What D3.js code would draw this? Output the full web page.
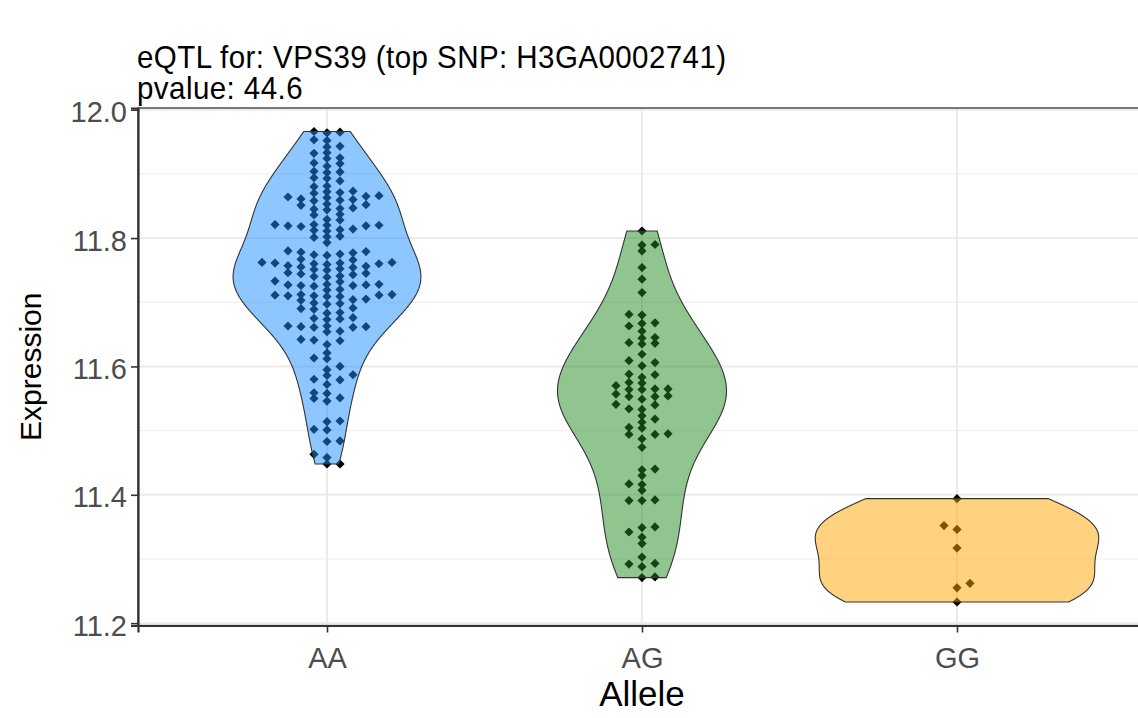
<!DOCTYPE html>
<html>
<head>
<meta charset="utf-8">
<script src="https://cdn.jsdelivr.net/npm/d3@7"></script>
<style>
  html, body { margin: 0; padding: 0; background: #ffffff; }
  svg { display: block; }
  text { font-family: "Liberation Sans", Arial, sans-serif; }
</style>
</head>
<body>
<svg id="chart" width="1138" height="718"></svg>
<script>
// ---- data ----
const categories = ["AA", "AG", "GG"];

const aaExpression = [
  11.966, 11.965, 11.964,
  11.953, 11.952,
  11.943, 11.942,
  11.933, 11.932,
  11.925, 11.924,
  11.917, 11.916,
  11.912,
  11.904, 11.903, 11.902,
  11.894, 11.893,
  11.889,
  11.881, 11.880,
  11.873, 11.872, 11.871, 11.870,
  11.866, 11.865, 11.864, 11.863,
  11.861, 11.860, 11.859, 11.858,
  11.853, 11.852, 11.851,
  11.847, 11.846, 11.845, 11.844,
  11.837, 11.836,
  11.829, 11.828,
  11.821, 11.821, 11.820, 11.820, 11.819, 11.819, 11.818,
  11.814, 11.813, 11.812, 11.811,
  11.803, 11.802, 11.801,
  11.793,
  11.780, 11.779, 11.778, 11.777,
  11.775, 11.774, 11.773,
  11.767, 11.766,
  11.762, 11.762, 11.761, 11.761, 11.760, 11.760, 11.759,
  11.757, 11.756, 11.755, 11.754,
  11.752, 11.751, 11.750,
  11.746, 11.745, 11.744, 11.743,
  11.741, 11.740, 11.739,
  11.733, 11.732,
  11.728, 11.728, 11.727, 11.727, 11.726, 11.726, 11.725,
  11.720, 11.719,
  11.712, 11.712, 11.711, 11.711, 11.710, 11.710, 11.709, 11.709,
  11.705, 11.704, 11.703,
  11.699, 11.698, 11.697,
  11.691, 11.690, 11.689,
  11.684, 11.683,
  11.676, 11.675, 11.674, 11.673,
  11.663, 11.663, 11.662, 11.662, 11.661, 11.661,
  11.655, 11.654,
  11.642, 11.641, 11.640,
  11.634,
  11.621,
  11.613, 11.612,
  11.600,
  11.595,
  11.587, 11.586,
  11.580, 11.579,
  11.572,
  11.559, 11.558,
  11.551, 11.550,
  11.546,
  11.515, 11.514,
  11.502, 11.501,
  11.484, 11.483,
  11.463,
  11.458,
  11.448, 11.448
];

const agExpression = [
  11.811, 11.790, 11.789, 11.780, 11.754, 11.736, 11.715,
  11.681, 11.680, 11.668, 11.667, 11.663, 11.655,
  11.645, 11.644, 11.637, 11.636, 11.635,
  11.619, 11.609, 11.606, 11.601,
  11.588, 11.587, 11.583, 11.575, 11.574, 11.570,
  11.565, 11.565, 11.564, 11.564, 11.557,
  11.554, 11.553, 11.553, 11.549, 11.541, 11.540,
  11.534, 11.533, 11.523, 11.518, 11.513,
  11.505, 11.504, 11.495, 11.494, 11.494, 11.487, 11.474,
  11.440, 11.439, 11.430, 11.417, 11.416, 11.407,
  11.392, 11.391, 11.391,
  11.350, 11.349, 11.342, 11.334, 11.324,
  11.303, 11.293, 11.292, 11.288, 11.272, 11.271
];

const ggExpression = [11.394, 11.352, 11.346, 11.317, 11.262, 11.255, 11.233];

const yTickValues = [11.2, 11.4, 11.6, 11.8, 12.0];
const titleLines = ["eQTL for: VPS39 (top SNP: H3GA0002741)", "pvalue: 44.6"];
const xTitle = "Allele";
const yTitle = "Expression";

// ---- styling ----
const violinFill = ["dodgerblue", "forestgreen", "orange"];
const groups = [aaExpression, agExpression, ggExpression];
const bandwidthAdjust = 1.15;

// ---- layout ----
const panel = { left: 138, right: 1146, top: 108, bottom: 625.5 };

const svg = d3.select("#chart");

const x = d3.scalePoint()
  .domain(categories)
  .range([panel.left, panel.right])
  .padding(0.6);

const allValues = groups.flat();
const [vMin, vMax] = d3.extent(allValues);
const pad = (vMax - vMin) * 0.05;
const y = d3.scaleLinear()
  .domain([vMin - pad, vMax + pad])
  .range([panel.bottom, panel.top]);

svg.append("defs").append("clipPath").attr("id", "panelClip")
  .append("rect")
  .attr("x", panel.left).attr("y", panel.top)
  .attr("width", panel.right - panel.left)
  .attr("height", panel.bottom - panel.top);

const plot = svg.append("g").attr("clip-path", "url(#panelClip)");

// ---- grid ----
const minorTicks = d3.range(0, yTickValues.length - 1)
  .map(i => (yTickValues[i] + yTickValues[i + 1]) / 2);

plot.append("g").selectAll("line").data(minorTicks).join("line")
  .attr("x1", panel.left).attr("x2", panel.right)
  .attr("y1", d => y(d)).attr("y2", d => y(d))
  .attr("stroke", "#ededed").attr("stroke-width", 1);

plot.append("g").selectAll("line").data(yTickValues).join("line")
  .attr("x1", panel.left).attr("x2", panel.right)
  .attr("y1", d => y(d)).attr("y2", d => y(d))
  .attr("stroke", "#ebebeb").attr("stroke-width", 2);

plot.append("g").selectAll("line").data(categories).join("line")
  .attr("x1", d => x(d)).attr("x2", d => x(d))
  .attr("y1", panel.top).attr("y2", panel.bottom)
  .attr("stroke", "#ebebeb").attr("stroke-width", 2);

// ---- beeswarm placement of points ----
const colStep = 13;     // horizontal spacing between swarm columns (px)
const minGap = 5.6;     // minimum vertical gap within one column (px)

function swarm(values) {
  const sorted = values.map(v => ({ v, py: y(v) })).sort((a, b) => a.v - b.v);
  const columns = new Map();
  sorted.forEach(p => {
    let chosen = 0;
    let best = null;
    for (let a = 0; a <= 12; a++) {
      for (const k of (a === 0 ? [0] : [a, -a])) {
        const col = columns.get(k) || [];
        if (col.some(q => Math.abs(q - p.py) < minGap)) continue;
        const score = a * 1000 + col.length;
        if (best === null || score < best) { best = score; chosen = k; }
      }
    }
    if (!columns.has(chosen)) columns.set(chosen, []);
    columns.get(chosen).push(p.py);
    p.k = chosen;
  });
  return sorted;
}

const diamond = r => `M0,${-r}L${r},0L0,${r}L${-r},0Z`;

groups.forEach((vals, gi) => {
  const cx = x(categories[gi]);
  const pts = swarm(vals);
  plot.append("g").selectAll("path").data(pts).join("path")
    .attr("d", diamond(4.6))
    .attr("transform", d => `translate(${cx + d.k * colStep},${d.py})`)
    .attr("fill", "#000000");
});

// ---- violins (gaussian KDE, trimmed, scaled by area) ----
function nrd0(vals) {
  const s = d3.deviation(vals);
  const sorted = vals.slice().sort(d3.ascending);
  const iqr = d3.quantileSorted(sorted, 0.75) - d3.quantileSorted(sorted, 0.25);
  const lo = Math.min(s, iqr / 1.34);
  return 0.9 * lo * Math.pow(vals.length, -0.2);
}

function kde(vals, n = 512) {
  const bw = nrd0(vals) * bandwidthAdjust;
  const [lo, hi] = d3.extent(vals);
  const grid = d3.range(n).map(i => lo + (hi - lo) * i / (n - 1));
  const c = 1 / (vals.length * bw * Math.sqrt(2 * Math.PI));
  return grid.map(g => ({
    v: g,
    d: c * d3.sum(vals, xi => Math.exp(-0.5 * ((g - xi) / bw) ** 2))
  }));
}

const densities = groups.map(vals => kde(vals));
const maxDensity = d3.max(densities.flat(), d => d.d);
const halfWidth = 0.45 * x.step();

densities.forEach((dens, gi) => {
  const cx = x(categories[gi]);
  const w = d3.scaleLinear().domain([0, maxDensity]).range([0, halfWidth]);
  const right = dens.map(p => [cx + w(p.d), y(p.v)]);
  const left = dens.slice().reverse().map(p => [cx - w(p.d), y(p.v)]);
  const outline = d3.line()(right.concat(left)) + "Z";
  plot.append("path")
    .attr("d", outline)
    .attr("fill", violinFill[gi])
    .attr("fill-opacity", 0.5)
    .attr("stroke", "#333333")
    .attr("stroke-width", 1.1)
    .attr("stroke-linejoin", "round");
});

// ---- panel border & axes ----
svg.append("rect")
  .attr("x", panel.left).attr("y", panel.top)
  .attr("width", panel.right - panel.left)
  .attr("height", panel.bottom - panel.top)
  .attr("fill", "none")
  .attr("stroke", "#333333")
  .attr("stroke-width", 1.3);

const yAxis = d3.axisLeft(y).tickValues(yTickValues).tickFormat(d3.format(".1f"))
  .tickSize(7).tickPadding(4);
const gy = svg.append("g").attr("transform", `translate(${panel.left},0)`).call(yAxis);

const xAxis = d3.axisBottom(x).tickSize(7);
const gx = svg.append("g").attr("transform", `translate(0,${panel.bottom})`).call(xAxis);

[gy, gx].forEach(g => {
  g.select(".domain").attr("stroke", "#333333").attr("stroke-width", 2.2);
  g.selectAll(".tick line").attr("stroke", "#333333").attr("stroke-width", 1.6);
  g.selectAll(".tick text")
    .attr("fill", "#4d4d4d")
    .style("font-family", "'Liberation Sans', Arial, sans-serif")
    .style("font-size", "29px");
});
gy.selectAll(".tick text").attr("dy", "0.42em");
gx.selectAll(".tick text").attr("y", 42).attr("dy", 0);

// ---- titles ----
const stretchY = 1.04;
svg.append("g").attr("transform", `scale(1,${stretchY})`)
  .selectAll("text").data(titleLines).join("text")
  .attr("x", panel.left - 1)
  .attr("y", (d, i) => (68 + i * 31) / stretchY)
  .attr("fill", "#000000")
  .style("font-size", "29.5px")
  .style("letter-spacing", "0.45px")
  .text(d => d);

svg.append("text")
  .attr("x", (panel.left + panel.right) / 2)
  .attr("y", 706)
  .attr("text-anchor", "middle")
  .attr("fill", "#000000")
  .style("font-size", "35px")
  .text(xTitle);

svg.append("text")
  .attr("transform", `translate(41,${(panel.top + panel.bottom) / 2}) rotate(-90)`)
  .attr("text-anchor", "middle")
  .attr("fill", "#000000")
  .style("font-size", "30px")
  .text(yTitle);
</script>
</body>
</html>
